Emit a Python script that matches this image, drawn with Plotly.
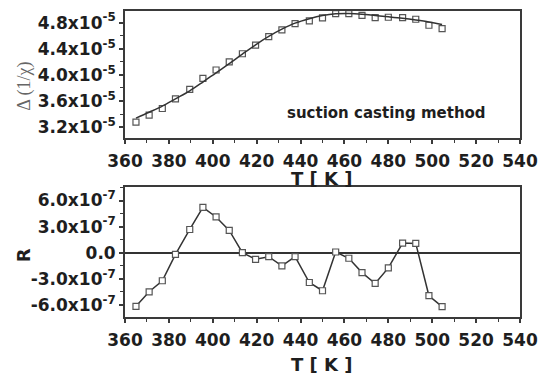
import plotly.graph_objects as go

# ---- data ----
T = [365, 371, 377, 383, 389.5, 395.5, 401.5, 407.5, 413.5, 419.5, 425.5, 431.5,
     437.5, 444, 450, 456, 462, 468, 474, 480, 486.5, 492.5, 498.5, 504.5]
inv_chi = [3.276e-5, 3.382e-5, 3.485e-5, 3.632e-5, 3.779e-5, 3.946e-5, 4.074e-5, 4.200e-5,
           4.323e-5, 4.455e-5, 4.587e-5, 4.689e-5, 4.785e-5, 4.826e-5, 4.872e-5, 4.937e-5,
           4.937e-5, 4.912e-5, 4.876e-5, 4.882e-5, 4.876e-5, 4.852e-5, 4.760e-5, 4.709e-5]
fit = [3.338e-5, 3.427e-5, 3.520e-5, 3.632e-5, 3.755e-5, 3.890e-5, 4.032e-5, 4.172e-5,
       4.318e-5, 4.460e-5, 4.590e-5, 4.700e-5, 4.792e-5, 4.860e-5, 4.908e-5, 4.935e-5,
       4.940e-5, 4.930e-5, 4.910e-5, 4.890e-5, 4.866e-5, 4.840e-5, 4.810e-5, 4.772e-5]
resid = [-6.17e-7, -4.50e-7, -3.23e-7, -0.20e-7, 2.67e-7, 5.22e-7, 4.11e-7, 2.56e-7,
         0.00e-7, -0.76e-7, -0.46e-7, -1.52e-7, -0.46e-7, -3.43e-7, -4.38e-7, 0.08e-7,
         -0.64e-7, -2.29e-7, -3.54e-7, -1.75e-7, 1.11e-7, 1.07e-7, -4.95e-7, -6.20e-7]

top_tickvals = [3.2e-5, 3.6e-5, 4.0e-5, 4.4e-5, 4.8e-5]
top_ticktext = ["3.2x10<sup>-5</sup>", "3.6x10<sup>-5</sup>", "4.0x10<sup>-5</sup>",
                "4.4x10<sup>-5</sup>", "4.8x10<sup>-5</sup>"]
bot_tickvals = [-6e-7, -3e-7, 0, 3e-7, 6e-7]
bot_ticktext = ["-6.0x10<sup>-7</sup>", "-3.0x10<sup>-7</sup>", "0.0",
                "3.0x10<sup>-7</sup>", "6.0x10<sup>-7</sup>"]

FONT = "DejaVu Sans"
AX = "#3a3a3a"
MK = "#555555"
TXT = "#1e1e1e"

fig = go.Figure()
fig.add_trace(go.Scatter(x=T, y=inv_chi, mode="markers", xaxis="x2", yaxis="y2",
                         marker=dict(symbol="square-open", size=6, color=MK,
                                     line=dict(width=1.2, color=MK)),
                         showlegend=False))
fig.add_trace(go.Scatter(x=T, y=fit, mode="lines", xaxis="x2", yaxis="y2",
                         line=dict(color="#333333", width=1.5, shape="spline"),
                         showlegend=False))
fig.add_trace(go.Scatter(x=T, y=resid, mode="lines+markers", xaxis="x", yaxis="y",
                         line=dict(color="#333333", width=1.5),
                         marker=dict(symbol="square", size=6, color="white",
                                     line=dict(width=1.2, color=MK)),
                         showlegend=False))

tickfont = dict(family=FONT, size=17, color=TXT, weight="bold")

xcommon = dict(range=[360, 540], tickmode="linear", tick0=360, dtick=20,
               ticks="outside", ticklen=4, tickwidth=1.5, tickcolor=AX,
               showline=True, linecolor=AX, linewidth=1.8, mirror=True,
               showgrid=False, zeroline=False, tickfont=tickfont,
               minor=dict(ticks="outside", ticklen=3, tickwidth=1.2, tickcolor=AX,
                          dtick=10, tick0=360, showgrid=False),
               ticklabelstandoff=3)

ycommon = dict(tickmode="array", ticks="outside", ticklen=4, tickwidth=1.5, tickcolor=AX,
               showline=True, linecolor=AX, linewidth=1.8, mirror=True,
               showgrid=False, tickfont=tickfont)

# page body has an 8px default margin, so the figure is sized to fit the window
fig.update_layout(
    width=538, height=370,
    margin=dict(l=117, r=26, t=1, b=61),
    plot_bgcolor="white", paper_bgcolor="white",
    font=dict(family=FONT),
    xaxis=dict(domain=[0, 1], anchor="y", **xcommon),
    xaxis2=dict(domain=[0, 1], anchor="y2", **xcommon),
    yaxis=dict(domain=[0, 0.426], anchor="x", range=[-7.4e-7, 7.6e-7],
               tickvals=bot_tickvals, ticktext=bot_ticktext,
               zeroline=True, zerolinecolor="#333333", zerolinewidth=1.5,
               minor=dict(ticks="outside", ticklen=3, tickwidth=1.2, tickcolor=AX,
                          tickmode="linear", tick0=0, dtick=1.5e-7, showgrid=False),
               **ycommon),
    yaxis2=dict(domain=[0.585, 1], anchor="x2", range=[3.033e-5, 4.978e-5],
                tickvals=top_tickvals, ticktext=top_ticktext, zeroline=False,
                minor=dict(ticks="outside", ticklen=3, tickwidth=1.2, tickcolor=AX,
                           tickmode="linear", tick0=3.2e-5, dtick=0.2e-5, showgrid=False),
                **ycommon),
    annotations=[
        dict(text="T [ K ]", x=0.497, y=0.452, xref="paper", yref="paper",
             showarrow=False, font=dict(family=FONT, size=18, color=TXT, weight="bold"),
             xanchor="center", yanchor="middle"),
        dict(text="T [ K ]", x=0.497, y=-0.156, xref="paper", yref="paper",
             showarrow=False, font=dict(family=FONT, size=18, color=TXT, weight="bold"),
             xanchor="center", yanchor="middle"),
        dict(text="R", x=-0.258, y=0.202, xref="paper", yref="paper",
             showarrow=False, textangle=-90,
             font=dict(family=FONT, size=18, color=TXT, weight="bold"),
             xanchor="center", yanchor="middle"),
        dict(text="\u0394 (1/\u03c7)", x=-0.253, y=0.753, xref="paper", yref="paper",
             showarrow=False, textangle=-90,
             font=dict(family="Liberation Serif", size=18, color="#666666"),
             xanchor="center", yanchor="middle"),
        dict(text="suction casting method", x=0.662, y=0.666, xref="paper", yref="paper",
             showarrow=False, font=dict(family=FONT, size=15, color=TXT, weight="bold"),
             xanchor="center", yanchor="middle"),
    ],
)

fig.write_html("out.html")
